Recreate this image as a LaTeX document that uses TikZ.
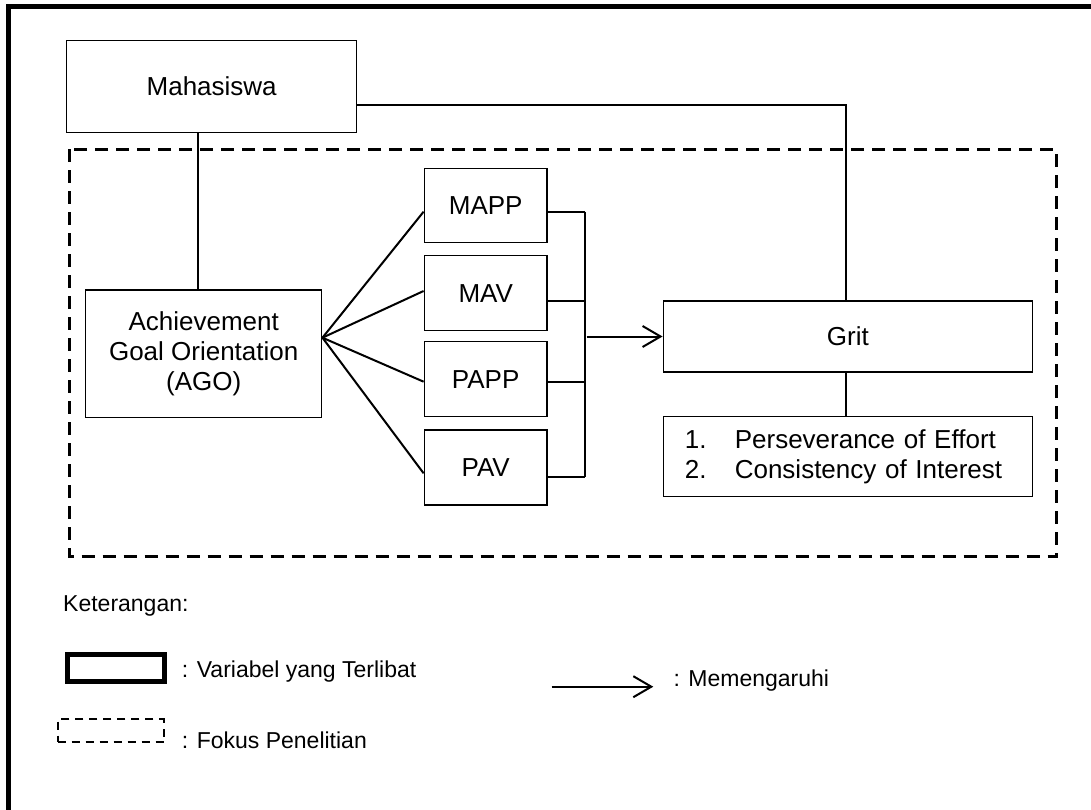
\documentclass[tikz,border=0pt]{standalone}
\usepackage{fontspec}
\setmainfont{Liberation Sans}
\usetikzlibrary{arrows.meta}
\tikzset{
  box/.style={draw, line width=1.5pt, rectangle, inner sep=0pt, align=center, font=\fontsize{26}{30}\selectfont},
  conn/.style={line width=2pt},
  arr/.style={line width=2pt, -{Straight Barb[length=18pt,width=21pt,line width=2pt]}},
  focus/.style={line width=3pt, dash pattern=on 13pt off 8pt},
  legtext/.style={inner sep=0pt, anchor=base west, font=\fontsize{23}{27}\selectfont},
}
\begin{document}
\begin{tikzpicture}[x=1pt,y=-1pt]
\useasboundingbox (0,0) rectangle (1091,810);
% outer frame (only top and left visible)
\draw[line width=5pt] (1095,6.5) -- (8.5,6.5) -- (8.5,815);

% focus area
\draw[focus] (69,149.3) rectangle (1056.7,556.7);

% nodes
\node[box, minimum width=290pt, minimum height=91.6pt] (mah) at (211.7,86.5) {Mahasiswa};
\node[box, minimum width=236pt, minimum height=127.5pt] (ago) at (203.7,353.7) {Achievement\\Goal Orientation\\(AGO)};
\node[box, minimum width=122.7pt, minimum height=74pt] (mapp) at (485.7,205.5) {MAPP};
\node[box, minimum width=122.7pt, minimum height=75pt] (mav) at (485.7,293.2) {MAV};
\node[box, minimum width=122.7pt, minimum height=75pt] (papp) at (485.7,379.2) {PAPP};
\node[box, minimum width=122.7pt, minimum height=75pt] (pav) at (485.7,467.5) {PAV};
\node[box, minimum width=369pt, minimum height=71pt] (grit) at (847.8,336.5) {Grit};
\node[box, minimum width=369pt, minimum height=80pt, text width=326pt, inner xsep=21.5pt, align=left] (list) at (847.8,456.7)
  {\makebox[50pt][l]{1.}Perseverance of Effort\\\makebox[50pt][l]{2.}Consistency of Interest};

% connectors
\draw[conn] ([xshift=-13.7pt]mah.south) -- ([xshift=-5.7pt]ago.north);
\draw[conn] ([yshift=-18.8pt]mah.east) -| ([xshift=-2pt]grit.north);
\draw[conn] ([xshift=-2pt]grit.south) -- ([xshift=-2pt]list.north);

\coordinate (fan) at ([yshift=16pt]ago.east);
\draw[conn] (fan) -- ([yshift=-6.2pt]mapp.west);
\draw[conn] (fan) -- ([yshift=2.2pt]mav.west);
\draw[conn] (fan) -- ([yshift=-2.5pt]papp.west);
\draw[conn] (fan) -- ([yshift=-5.8pt]pav.west);

\draw[conn] ([yshift=-6.2pt]mapp.east) -- ++(36.7,0) coordinate (bt);
\draw[conn] ([yshift=-7.8pt]mav.east) -- ++(36.7,0);
\draw[conn] ([yshift=-2.5pt]papp.east) -- ++(36.7,0);
\draw[conn] ([yshift=-9.2pt]pav.east) -- ++(36.7,0) coordinate (bb);
\draw[conn] (bt) -- (bb);

\draw[arr] ([xshift=-76pt]grit.west) -- (grit.west);

% legend
\node[legtext] (ket) at (63,611.7) {Keterangan:};
\node[draw, line width=5pt, inner sep=0pt, minimum width=96.5pt, minimum height=27pt] (legbox) at (115.75,667.5) {};
\node[legtext] (legboxt) at (181.7,677.7) {: Variabel yang Terlibat};
\node[draw, line width=2pt, dash pattern=on 8pt off 6pt, inner sep=0pt, minimum width=106.3pt, minimum height=23pt] (legfoc) at (110.85,730.8) {};
\node[legtext] (legfoct) at (181.7,748.3) {: Fokus Penelitian};
\coordinate (la1) at (551.7,686.7);
\coordinate (la2) at (653.3,686.7);
\draw[arr] (la1) -- (la2);
\node[legtext] (legarrt) at (673.3,686) {: Memengaruhi};
\end{tikzpicture}
\end{document}
